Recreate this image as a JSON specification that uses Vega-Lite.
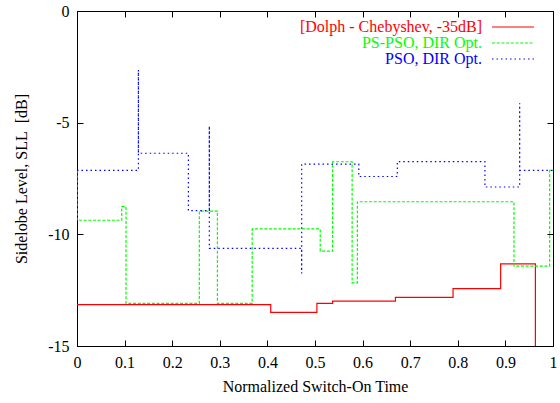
{
  "$schema": "https://vega.github.io/schema/vega-lite/v6.json",
  "width": 476,
  "height": 335,
  "autosize": {"type": "none"},
  "padding": {"left": 77, "top": 11, "right": 7, "bottom": 57},
  "background": "white",
  "config": {
    "view": {"stroke": "black", "strokeWidth": 1},
    "font": "Liberation Serif",
    "axis": {
      "labelFont": "Liberation Serif",
      "labelFontSize": 16,
      "labelColor": "black",
      "titleFont": "Liberation Serif",
      "titleFontSize": 16,
      "titleFontWeight": "normal",
      "titleColor": "black",
      "domainColor": "black",
      "tickColor": "black",
      "grid": false
    }
  },
  "datasets": {
    "sll": [
      {"series": "[Dolph - Chebyshev, -35dB]", "i": 0, "x": 0, "y": -13.15},
      {"series": "[Dolph - Chebyshev, -35dB]", "i": 1, "x": 0.407, "y": -13.49},
      {"series": "[Dolph - Chebyshev, -35dB]", "i": 2, "x": 0.504, "y": -13.09},
      {"series": "[Dolph - Chebyshev, -35dB]", "i": 3, "x": 0.537, "y": -12.99},
      {"series": "[Dolph - Chebyshev, -35dB]", "i": 4, "x": 0.669, "y": -12.82},
      {"series": "[Dolph - Chebyshev, -35dB]", "i": 5, "x": 0.79, "y": -12.43},
      {"series": "[Dolph - Chebyshev, -35dB]", "i": 6, "x": 0.89, "y": -11.32},
      {"series": "[Dolph - Chebyshev, -35dB]", "i": 7, "x": 0.963, "y": -15},
      {"series": "PS-PSO, DIR Opt.", "i": 0, "x": 0, "y": -7.14},
      {"series": "PS-PSO, DIR Opt.", "i": 1, "x": 0, "y": -9.37},
      {"series": "PS-PSO, DIR Opt.", "i": 2, "x": 0.094, "y": -8.76},
      {"series": "PS-PSO, DIR Opt.", "i": 3, "x": 0.103, "y": -13.09},
      {"series": "PS-PSO, DIR Opt.", "i": 4, "x": 0.257, "y": -8.96},
      {"series": "PS-PSO, DIR Opt.", "i": 5, "x": 0.295, "y": -13.09},
      {"series": "PS-PSO, DIR Opt.", "i": 6, "x": 0.368, "y": -9.76},
      {"series": "PS-PSO, DIR Opt.", "i": 7, "x": 0.511, "y": -10.75},
      {"series": "PS-PSO, DIR Opt.", "i": 8, "x": 0.537, "y": -6.75},
      {"series": "PS-PSO, DIR Opt.", "i": 9, "x": 0.578, "y": -12.17},
      {"series": "PS-PSO, DIR Opt.", "i": 10, "x": 0.589, "y": -8.54},
      {"series": "PS-PSO, DIR Opt.", "i": 11, "x": 0.918, "y": -11.42},
      {"series": "PS-PSO, DIR Opt.", "i": 12, "x": 0.993, "y": -7.14},
      {"series": "PS-PSO, DIR Opt.", "i": 13, "x": 1.0, "y": -7.14},
      {"series": "PSO, DIR Opt.", "i": 0, "x": 0, "y": -7.14},
      {"series": "PSO, DIR Opt.", "i": 1, "x": 0.129, "y": -2.64},
      {"series": "PSO, DIR Opt.", "i": 2, "x": 0.129, "y": -6.37},
      {"series": "PSO, DIR Opt.", "i": 3, "x": 0.234, "y": -8.94},
      {"series": "PSO, DIR Opt.", "i": 4, "x": 0.278, "y": -5.15},
      {"series": "PSO, DIR Opt.", "i": 5, "x": 0.278, "y": -10.63},
      {"series": "PSO, DIR Opt.", "i": 6, "x": 0.472, "y": -11.75},
      {"series": "PSO, DIR Opt.", "i": 7, "x": 0.472, "y": -6.86},
      {"series": "PSO, DIR Opt.", "i": 8, "x": 0.592, "y": -7.41},
      {"series": "PSO, DIR Opt.", "i": 9, "x": 0.673, "y": -6.74},
      {"series": "PSO, DIR Opt.", "i": 10, "x": 0.857, "y": -7.88},
      {"series": "PSO, DIR Opt.", "i": 11, "x": 0.93, "y": -4.13},
      {"series": "PSO, DIR Opt.", "i": 12, "x": 0.93, "y": -7.14},
      {"series": "PSO, DIR Opt.", "i": 13, "x": 1.0, "y": -7.14}
    ]
  },
  "data": {"name": "sll"},
  "layer": [
    {
      "mark": {"type": "line", "interpolate": "step-after", "strokeWidth": 1.2, "clip": true},
      "encoding": {
        "x": {
          "field": "x", "type": "quantitative",
          "scale": {"domain": [0, 1], "nice": false, "zero": false},
          "axis": {
            "orient": "bottom",
            "title": "Normalized Switch-On Time",
            "values": [0, 0.1, 0.2, 0.3, 0.4, 0.5, 0.6, 0.7, 0.8, 0.9, 1],
            "labelExpr": "'' + datum.value",
            "tickSize": -6,
            "labelPadding": 14,
            "titlePadding": 8,
            "labelFlush": false,
            "labelOverlap": false
          }
        },
        "y": {
          "field": "y", "type": "quantitative",
          "scale": {"domain": [-15, 0], "nice": false, "zero": false},
          "axis": {
            "orient": "left",
            "title": "Sidelobe Level, SLL\u00a0 [dB]",
            "values": [0, -5, -10, -15],
            "labelExpr": "'' + datum.value",
            "tickSize": -6,
            "labelPadding": 14,
            "titlePadding": 18,
            "labelFlush": false,
            "labelOverlap": false
          }
        },
        "order": {"field": "i", "type": "quantitative"},
        "color": {
          "field": "series", "type": "nominal",
          "scale": {
            "domain": ["[Dolph - Chebyshev, -35dB]", "PS-PSO, DIR Opt.", "PSO, DIR Opt."],
            "range": ["#ff0000", "#00ff00", "#0000ff"]
          },
          "legend": {
            "title": null,
            "orient": "none",
            "legendX": 0,
            "legendY": 8,
            "padding": 0,
            "rowPadding": 0,
            "symbolType": "M-4,0H4",
            "symbolSize": 110,
            "symbolStrokeWidth": 1.2,
            "labelFont": "Liberation Serif",
            "labelFontSize": 16,
            "labelLimit": 400,
            "encode": {
              "labels": {"update": {"x": {"value": 405}, "align": {"value": "right"}, "fill": {"scale": "color", "field": "value"}}},
              "symbols": {"update": {"x": {"value": 436}}}
            }
          }
        },
        "strokeDash": {
          "field": "series", "type": "nominal",
          "scale": {
            "domain": ["[Dolph - Chebyshev, -35dB]", "PS-PSO, DIR Opt.", "PSO, DIR Opt."],
            "range": [[1, 0], [3, 1.7], [1.5, 3]]
          },
          "legend": {
            "title": null,
            "orient": "none",
            "legendX": 0,
            "legendY": 8,
            "padding": 0,
            "rowPadding": 0,
            "symbolType": "M-4,0H4",
            "symbolSize": 110,
            "symbolStrokeWidth": 1.2,
            "labelFont": "Liberation Serif",
            "labelFontSize": 16,
            "labelLimit": 400,
            "encode": {
              "labels": {"update": {"x": {"value": 405}, "align": {"value": "right"}, "fill": {"scale": "color", "field": "value"}}},
              "symbols": {"update": {"x": {"value": 436}}}
            }
          }
        }
      }
    },
    {
      "mark": {"type": "line", "opacity": 0},
      "encoding": {
        "x": {
          "field": "x", "type": "quantitative",
          "scale": {"domain": [0, 1], "nice": false, "zero": false},
          "axis": {"orient": "top", "title": null, "labels": false, "domain": false, "values": [0, 0.1, 0.2, 0.3, 0.4, 0.5, 0.6, 0.7, 0.8, 0.9, 1], "tickSize": -6}
        },
        "y": {
          "field": "y", "type": "quantitative",
          "scale": {"domain": [-15, 0], "nice": false, "zero": false},
          "axis": {"orient": "right", "title": null, "labels": false, "domain": false, "values": [0, -5, -10, -15], "tickSize": -6}
        }
      }
    }
  ],
  "resolve": {"axis": {"x": "independent", "y": "independent"}}
}
